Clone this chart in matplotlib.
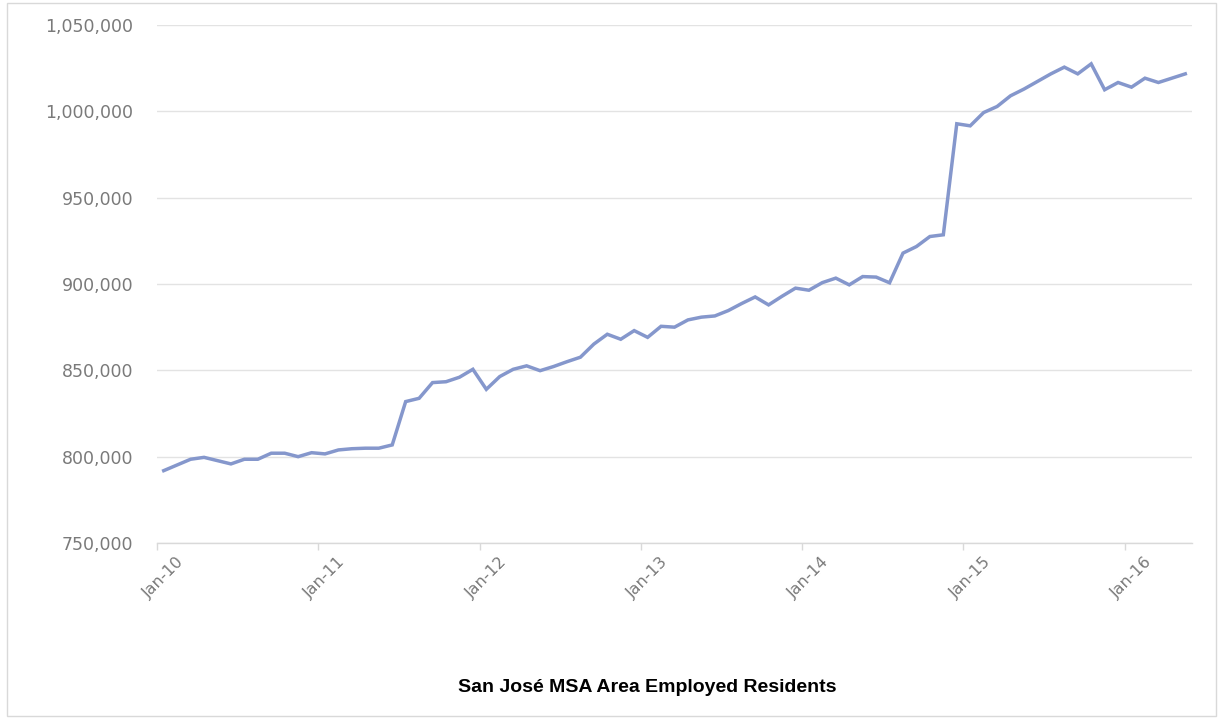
import matplotlib
matplotlib.use("Agg")
import matplotlib.pyplot as plt
from matplotlib.ticker import FuncFormatter
from matplotlib.patches import Rectangle

# Monthly employed residents, Jan-2010 .. May-2016 (thousands)
months = ["Jan", "Feb", "Mar", "Apr", "May", "Jun", "Jul", "Aug", "Sep", "Oct", "Nov", "Dec"]
years = [10, 11, 12, 13, 14, 15, 16]
employed_k = [
    791.9, 795.2, 798.5, 799.6, 797.7, 795.8, 798.5, 798.5, 802.0, 802.0, 800.0, 802.3,
    801.6, 803.9, 804.6, 804.9, 804.9, 806.8, 831.9, 833.8, 842.9, 843.4, 846.0, 850.6,
    839.0, 846.4, 850.6, 852.6, 849.8, 852.2, 855.0, 857.6, 865.2, 870.9, 868.0, 873.0,
    869.1, 875.5, 875.0, 879.2, 880.8, 881.5, 884.6, 888.7, 892.5, 887.9, 892.9, 897.6,
    896.4, 900.8, 903.4, 899.5, 904.3, 904.0, 900.7, 917.9, 921.7, 927.5, 928.5, 992.8,
    991.6, 999.3, 1002.8, 1009.0, 1012.9, 1017.3, 1021.7, 1025.6, 1021.7, 1027.5, 1012.5, 1016.7,
    1014.0, 1019.2, 1016.7, 1019.2, 1021.7,
]
labels = [f"{months[i % 12]}-{years[i // 12]}" for i in range(len(employed_k))]
values = [v * 1000 for v in employed_k]
tick_labels = [f"Jan-{y}" for y in years]
y_ticks = [750000, 800000, 850000, 900000, 950000, 1000000, 1050000]
title = "San José MSA Area Employed Residents"

W, H = 1220, 719
fig = plt.figure(figsize=(W / 100, H / 100), dpi=100)
ax = fig.add_axes([157 / W, 1 - 543 / H, (1192 - 157) / W, (543 - 25) / H])

x = list(range(len(values)))
ax.plot(x, values, color="#8597CC", lw=2.5, solid_joinstyle="miter", zorder=3)

ax.set_xlim(-0.5, len(values) - 0.5)
ax.set_ylim(y_ticks[0], y_ticks[-1])
ax.set_yticks(y_ticks)
ax.yaxis.set_major_formatter(FuncFormatter(lambda v, p: f"{int(v):,}"))
ax.grid(axis="y", color="#E3E3E3", lw=1.0, zorder=0)
ax.set_axisbelow(True)

label_pos = [12 * k for k in range(len(tick_labels))]
ax.set_xticks(label_pos)
ax.set_xticklabels(tick_labels, rotation=45, ha="center", va="top")
ax.set_xticks([p - 0.5 for p in label_pos], minor=True)
ax.tick_params(axis="x", which="major", length=0, pad=8, labelsize=11.5, labelcolor="#7A7A7A")
ax.tick_params(axis="x", which="minor", length=5, width=1, color="#D9D9D9")
ax.tick_params(axis="y", length=0, pad=17, labelsize=12.5, labelcolor="#7A7A7A")

for s in ["left", "right", "top"]:
    ax.spines[s].set_visible(False)
ax.spines["bottom"].set_color("#D9D9D9")
ax.spines["bottom"].set_linewidth(1.0)

fig.text(647 / W, 1 - 687 / H, title, ha="center", va="center",
         fontsize=14, fontweight="bold", family="Liberation Sans", color="#000000")

fig.patches.append(Rectangle((7 / W, 3 / H), (1216 - 7) / W, (716 - 3) / H,
                             transform=fig.transFigure, fill=False,
                             edgecolor="#D9D9D9", lw=1.0))

fig.savefig("out.png", dpi=100)
